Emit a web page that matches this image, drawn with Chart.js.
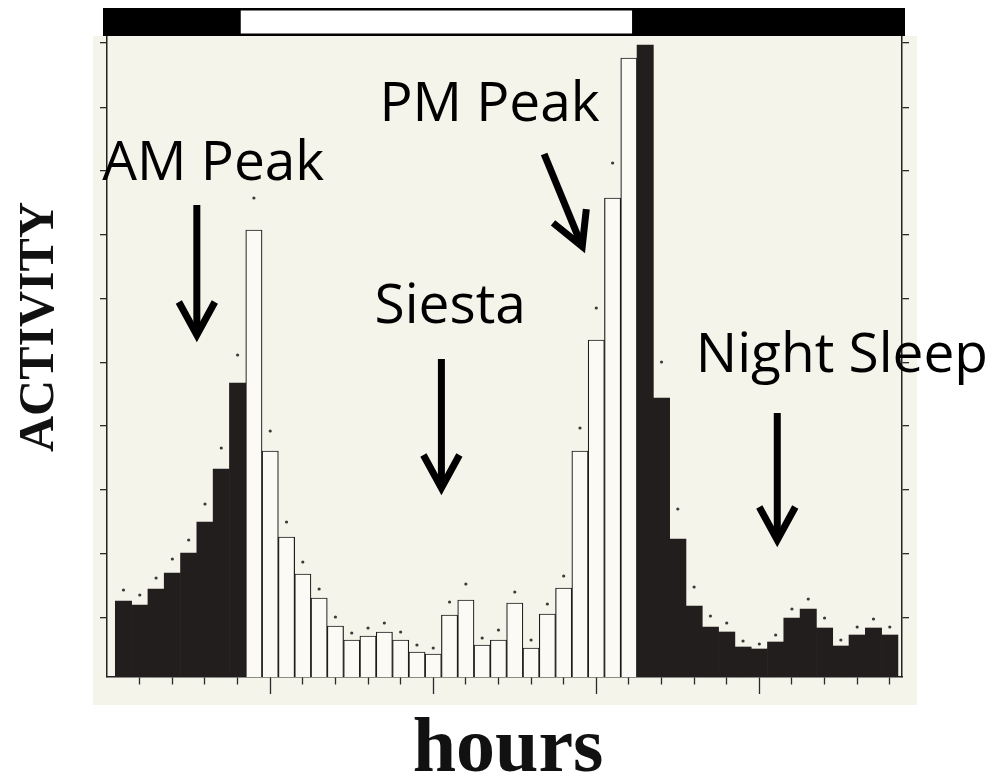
<!DOCTYPE html>
<html>
<head>
<meta charset="utf-8">
<title>Activity profile</title>
<script src="https://cdn.jsdelivr.net/npm/chart.js@4.4.1/dist/chart.umd.min.js"></script>
<style>
  html, body { margin: 0; padding: 0; background: #fff; }
</style>
</head>
<body>
<canvas id="chart" width="994" height="779"></canvas>
<script>
// 48 half-hour bins, the day starts 4 h before lights on
var activity = [76, 72, 88, 104, 124, 155, 208, 294,
  447, 226, 140, 103, 79, 51, 37, 41, 45, 37, 25, 23, 62, 77, 32, 37,
  74, 29, 63, 89, 226, 337, 479, 619,
  632, 279, 138, 71, 50, 45, 30, 28, 35, 59, 68, 49, 31, 42, 49, 42];

// small dots above the bars (error marks), null where hidden
var errorTop = [87, 82, 99, 118, 137, 173, 229, 322,
  479, 246, 155, 115, 88, 60, 44, 49, 54, 45, 32, 29, 75, 93, 39, 47,
  85, 37, 73, 101, 249, 369, 514, null,
  null, 315, 168, 90, 61, 54, 36, 33, 42, 68, 78, 59, 37, 50, 58, 50];

var lightsOn = 8;    // first light bin
var lightsOff = 32;  // first dark bin of the night

var yTicks = [59, 123, 187, 251, 314, 378, 442, 506, 569, 634];
var longTicks = [9.5, 19.5, 29.5, 39.5];

var notes = [
  { text: 'AM Peak', x: -0.8, y: 497, from: [5.0, 472], to: [5.0, 335] },
  { text: 'PM Peak', x: 16.2, y: 556, from: [26.3, 523], to: [28.8, 424] },
  { text: 'Siesta', x: 15.9, y: 354, from: [20.0, 318], to: [20.0, 182] },
  { text: 'Night Sleep', x: 35.6, y: 305, from: [40.6, 264], to: [40.6, 130] }
];

function isDark(i) {
    return i < lightsOn || i >= lightsOff;
}

var xTicks = [];
for (var t = 1.5; t < activity.length; t += 2) {
    xTicks.push(t);
}

var barData = activity.map(function (v, i) { return { x: i + 0.5, y: v }; });
var dotData = [];
errorTop.forEach(function (v, i) {
    if (v !== null) dotData.push({ x: i + 0.5, y: v });
});

function drawArrow(ctx, x1, y1, x2, y2) {
    var dx = x2 - x1, dy = y2 - y1;
    var len = Math.sqrt(dx * dx + dy * dy);
    var ux = dx / len, uy = dy / len;
    // pull the tip back so the mitred point lands on the target
    var tx = x2 - ux * 7, ty = y2 - uy * 7;
    var back = 33, side = 18;
    ctx.beginPath();
    ctx.moveTo(x1, y1);
    ctx.lineTo(tx - ux * 4, ty - uy * 4);
    ctx.stroke();
    ctx.beginPath();
    ctx.moveTo(tx - ux * back - uy * side, ty - uy * back + ux * side);
    ctx.lineTo(tx, ty);
    ctx.lineTo(tx - ux * back + uy * side, ty - uy * back - ux * side);
    ctx.stroke();
}

var paperPlugin = {
    id: 'paper',
    beforeDraw: function (chart) {
        var ctx = chart.ctx, a = chart.chartArea;
        ctx.save();
        ctx.fillStyle = '#f5f4ea';
        ctx.fillRect(a.left - 14, a.top - 1, a.right - a.left + 29, a.bottom - a.top + 29);
        ctx.restore();
    },
    afterDraw: function (chart) {
        var ctx = chart.ctx, a = chart.chartArea;
        var xs = chart.scales.x, ys = chart.scales.y;

        // light / dark bar along the top
        var top = a.top - 29, h = 28;
        var left = a.left - 4, right = a.right + 3;
        var on = xs.getPixelForValue(lightsOn) - 5;
        var off = xs.getPixelForValue(lightsOff) - 5;
        ctx.save();
        ctx.fillStyle = '#000';
        ctx.fillRect(left, top, right - left, h);
        ctx.fillStyle = '#fff';
        ctx.fillRect(on, top + 2.5, off - on, h - 5);

        // axis titles
        ctx.fillStyle = '#111';
        ctx.font = 'bold 50px "Liberation Serif", serif';
        ctx.textAlign = 'center';
        ctx.textBaseline = 'alphabetic';
        ctx.save();
        ctx.translate(53, 327);
        ctx.rotate(-Math.PI / 2);
        ctx.fillText('ACTIVITY', 0, 0);
        ctx.restore();
        ctx.font = 'bold 78px "Liberation Serif", serif';
        ctx.fillText('hours', 508, 771);

        // annotations
        ctx.fillStyle = '#000';
        ctx.strokeStyle = '#000';
        ctx.lineWidth = 7;
        ctx.lineJoin = 'miter';
        ctx.lineCap = 'butt';
        ctx.font = '55px "Open Sans", sans-serif';
        ctx.textAlign = 'left';
        notes.forEach(function (n) {
            ctx.fillText(n.text, xs.getPixelForValue(n.x), ys.getPixelForValue(n.y));
            drawArrow(ctx,
                xs.getPixelForValue(n.from[0]), ys.getPixelForValue(n.from[1]),
                xs.getPixelForValue(n.to[0]), ys.getPixelForValue(n.to[1]));
        });
        ctx.restore();
    }
};

function sideAxis(position) {
    return {
        position: position,
        min: 0,
        max: 640,
        afterBuildTicks: function (scale) {
            scale.ticks = yTicks.map(function (v) { return { value: v }; });
        },
        ticks: { display: false },
        grid: { drawOnChartArea: false, tickLength: 7, color: '#2a2a2a', lineWidth: 1.3 },
        border: { display: true, color: '#222', width: 1.5 }
    };
}

var ctx = document.getElementById('chart').getContext('2d');
new Chart(ctx, {
    type: 'bar',
    data: {
        datasets: [{
            type: 'scatter',
            data: dotData,
            pointRadius: 1.6,
            backgroundColor: '#3a3a3a',
            borderWidth: 0,
            order: 0
        }, {
            type: 'bar',
            data: barData,
            backgroundColor: activity.map(function (v, i) { return isDark(i) ? '#231e1e' : '#fbfaf4'; }),
            borderColor: '#1c1c1c',
            borderWidth: activity.map(function (v, i) { return isDark(i) ? 0 : 1.2; }),
            borderSkipped: 'start',
            barPercentage: 1,
            categoryPercentage: 1,
            order: 1
        }]
    },
    options: {
        responsive: false,
        animation: false,
        layout: { padding: { left: 100, right: 85, top: 37, bottom: 85 } },
        plugins: { legend: { display: false }, tooltip: { enabled: false } },
        scales: {
            x: {
                type: 'linear',
                position: 'bottom',
                offset: false,
                min: -0.51,
                max: 48.25,
                afterBuildTicks: function (scale) {
                    scale.ticks = xTicks.map(function (v) { return { value: v }; });
                },
                ticks: { display: false },
                grid: {
                    offset: false,
                    drawOnChartArea: false,
                    tickLength: 17,
                    color: '#2a2a2a',
                    tickWidth: 1.3,
                    tickBorderDash: function (c) {
                        if (c.tick && longTicks.indexOf(c.tick.value) >= 0) return [];
                        return [7, 40];
                    }
                },
                border: { display: true, color: '#222', width: 1.5 }
            },
            y: sideAxis('left'),
            y2: sideAxis('right')
        }
    },
    plugins: [paperPlugin]
});
</script>
</body>
</html>
